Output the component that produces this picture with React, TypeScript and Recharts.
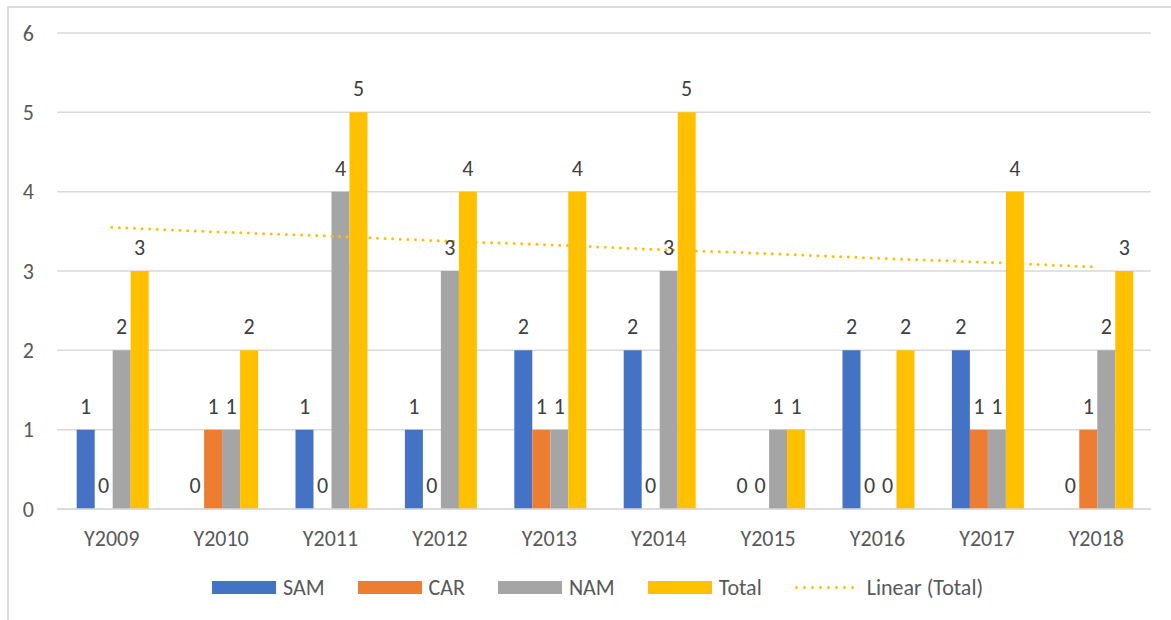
import React from "react";
import {
  ComposedChart,
  Bar,
  Line,
  XAxis,
  YAxis,
  CartesianGrid,
  Legend,
  LabelList,
} from "recharts";

const years = ["Y2009", "Y2010", "Y2011", "Y2012", "Y2013", "Y2014", "Y2015", "Y2016", "Y2017", "Y2018"];
const sam = [1, 0, 1, 1, 2, 2, 0, 2, 2, 0];
const car = [0, 1, 0, 0, 1, 0, 0, 0, 1, 1];
const nam = [2, 1, 4, 3, 1, 3, 1, 0, 1, 2];
const total = [3, 2, 5, 4, 4, 5, 1, 2, 4, 3];
// linear trendline of Total
const trend = [3.55, 3.49, 3.44, 3.38, 3.33, 3.27, 3.22, 3.16, 3.11, 3.05];
const yTicks = [0, 1, 2, 3, 4, 5, 6];

const series = [
  { key: "SAM", color: "#4472C4" },
  { key: "CAR", color: "#ED7D31" },
  { key: "NAM", color: "#A5A5A5" },
  { key: "Total", color: "#FFC000" },
];

const data = years.map((y, i) => ({
  year: y,
  SAM: sam[i],
  CAR: car[i],
  NAM: nam[i],
  Total: total[i],
  trend: trend[i],
}));

const FONT = "Carlito, 'Liberation Sans Narrow', Lato, sans-serif";
const FS = 22;

// draws the value above the bar, zeros included
const renderValue = (p: any) => {
  const { x, y, width, value } = p;
  if (value == null) return null;
  return (
    <text
      x={Number(x) + Number(width) / 2}
      y={Number(y) - 16}
      textAnchor="middle"
      fill="#404040"
      fontSize={FS}
      fontFamily={FONT}
    >
      {value}
    </text>
  );
};

function ChartLegend() {
  return (
    <div
      style={{
        display: "flex",
        alignItems: "center",
        height: 30,
        paddingLeft: 203,
        fontFamily: FONT,
        fontSize: FS,
        color: "#595959",
      }}
    >
      {series.map((s) => (
        <div key={s.key} style={{ display: "flex", alignItems: "center", marginRight: 33 }}>
          <div style={{ width: 64, height: 13, background: s.color, marginRight: 7 }} />
          <span>{s.key}</span>
        </div>
      ))}
      <div style={{ display: "flex", alignItems: "center" }}>
        <svg width={64} height={13} style={{ marginRight: 8 }}>
          <line
            x1={1.5}
            y1={6.5}
            x2={64}
            y2={6.5}
            stroke="#FFC000"
            strokeWidth={3}
            strokeDasharray="0 8"
            strokeLinecap="round"
          />
        </svg>
        <span>Linear (Total)</span>
      </div>
    </div>
  );
}

export default function App() {
  return (
    <div
      style={{
        position: "absolute",
        left: 7,
        top: 6,
        width: 1164,
        height: 614,
        borderLeft: "2px solid #dcdcdc",
        borderTop: "2px solid #dcdcdc",
        boxSizing: "border-box",
        background: "#fff",
      }}
    >
      <ComposedChart
        width={1150}
        height={610}
        data={data}
        margin={{ top: 25, right: 8, left: 0, bottom: 16 }}
        barCategoryGap="18%"
        barGap={0}
        style={{ fontFamily: FONT }}
      >
        <CartesianGrid vertical={false} stroke="#d9d9d9" strokeWidth={1.5} />
        <XAxis
          dataKey="year"
          height={63}
          tickSize={0}
          tickMargin={21}
          axisLine={{ stroke: "#d9d9d9", strokeWidth: 1.5 }}
          tick={{ fill: "#595959", fontSize: FS, fontFamily: FONT }}
        />
        <YAxis
          width={48}
          domain={[0, 6]}
          ticks={yTicks}
          tickSize={0}
          tickMargin={23}
          axisLine={false}
          tick={{ fill: "#595959", fontSize: FS, fontFamily: FONT }}
        />
        <Legend verticalAlign="bottom" content={<ChartLegend />} />
        {series.map((s) => (
          <Bar
            key={s.key}
            dataKey={s.key}
            fill={s.color}
            minPointSize={(v: number) => (v === 0 ? 0.01 : 0)}
            isAnimationActive={false}
          >
            <LabelList dataKey={s.key} content={renderValue} />
          </Bar>
        ))}
        <Line
          dataKey="trend"
          type="linear"
          stroke="#FFC000"
          strokeWidth={3}
          strokeDasharray="0 7.6"
          strokeLinecap="round"
          dot={false}
          activeDot={false}
          isAnimationActive={false}
          legendType="none"
        />
      </ComposedChart>
    </div>
  );
}
